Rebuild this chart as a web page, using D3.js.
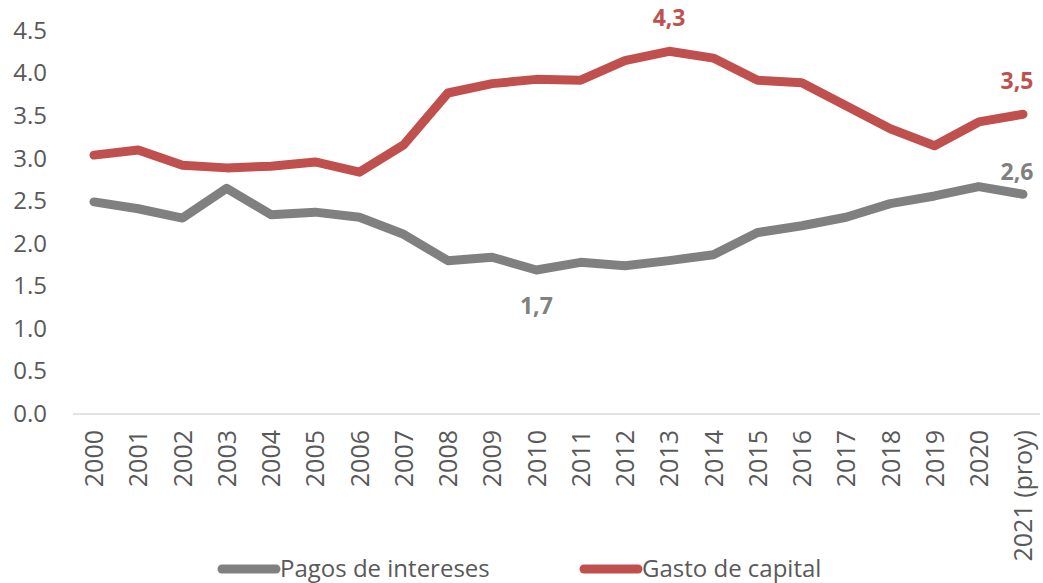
<!DOCTYPE html>
<html>
<head>
<meta charset="utf-8">
<script src="https://cdn.jsdelivr.net/npm/d3@7"></script>
<style>
  body { margin: 0; background: #fff; }
  svg text { font-family: "Open Sans", Lato, sans-serif; }
</style>
</head>
<body>
<div id="chart"></div>
<script>
// categories and series
var years = ["2000", "2001", "2002", "2003", "2004", "2005", "2006", "2007", "2008", "2009", "2010",
    "2011", "2012", "2013", "2014", "2015", "2016", "2017", "2018", "2019", "2020", "2021 (proy)"];
var pagosIntereses = [2.48, 2.40, 2.29, 2.64, 2.33, 2.36, 2.30, 2.10, 1.79, 1.83, 1.68,
    1.77, 1.73, 1.79, 1.86, 2.12, 2.20, 2.30, 2.46, 2.55, 2.66, 2.57];
var gastoCapital = [3.03, 3.09, 2.91, 2.88, 2.90, 2.95, 2.83, 3.15, 3.76, 3.87, 3.92,
    3.91, 4.14, 4.25, 4.17, 3.91, 3.88, 3.61, 3.34, 3.14, 3.42, 3.51];
var yTicks = [0, 0.5, 1, 1.5, 2, 2.5, 3, 3.5, 4, 4.5];
// labelled points
var labels = [
    { series: "gasto", i: 13, text: "4,3", pos: "above" },
    { series: "gasto", i: 21, text: "3,5", pos: "aboveLeft" },
    { series: "pagos", i: 21, text: "2,6", pos: "aboveLeft" },
    { series: "pagos", i: 10, text: "1,7", pos: "below" }
];

var width = 1043, height = 583;
var colors = { pagos: "#808080", gasto: "#C0504D" };

var svg = d3.select("#chart").append("svg")
    .attr("width", width).attr("height", height);

var xScale = d3.scalePoint().domain(years).range([94, 1023]);
var yScale = d3.scaleLinear().domain([0, 4.5]).range([413, 30]);

// y axis labels (no line)
var yAxis = d3.axisLeft(yScale).tickValues(yTicks).tickSize(0).tickPadding(0)
    .tickFormat(d3.format(".1f"));
var gy = svg.append("g").attr("transform", "translate(47,0)").call(yAxis);
gy.select(".domain").remove();
gy.selectAll("text").attr("fill", "#595959").style("font-size", "24px")
    .attr("dy", "0.35em");

// baseline
svg.append("line")
    .attr("x1", 73).attr("x2", 1040)
    .attr("y1", yScale(0) + 1).attr("y2", yScale(0) + 1)
    .attr("stroke", "#D9D9D9").attr("stroke-width", 1.5);

// x labels rotated
var xAxis = d3.axisBottom(xScale).tickSize(0).tickPadding(0);
var gx = svg.append("g").attr("transform", "translate(0,430)").call(xAxis);
gx.select(".domain").remove();
gx.selectAll("text")
    .attr("fill", "#595959").style("font-size", "25px")
    .attr("transform", "rotate(-90)")
    .attr("text-anchor", "end")
    .attr("x", 0).attr("y", 0).attr("dy", "0.35em");

var line = d3.line()
    .x(function (d, i) { return xScale(years[i]); })
    .y(function (d) { return yScale(d); });

svg.append("path").datum(pagosIntereses)
    .attr("d", line).attr("fill", "none")
    .attr("stroke", colors.pagos).attr("stroke-width", 9)
    .attr("stroke-linejoin", "round").attr("stroke-linecap", "round");
svg.append("path").datum(gastoCapital)
    .attr("d", line).attr("fill", "none")
    .attr("stroke", colors.gasto).attr("stroke-width", 9)
    .attr("stroke-linejoin", "round").attr("stroke-linecap", "round");

// data labels
labels.forEach(function (l) {
    var v = l.series === "gasto" ? gastoCapital[l.i] : pagosIntereses[l.i];
    var x = xScale(years[l.i]), y = yScale(v);
    var dx = 0, dy = -25;
    if (l.pos === "below") { dy = 44; }
    if (l.pos === "aboveLeft") { dx = -6; dy = l.series === "gasto" ? -25 : -14; }
    svg.append("text")
        .attr("x", x + dx).attr("y", y + dy)
        .attr("text-anchor", "middle")
        .attr("fill", colors[l.series])
        .style("font-size", "23px").style("font-weight", "bold")
        .text(l.text);
});

// legend
var legend = [
    { name: "Pagos de intereses", color: colors.pagos, x: 222 },
    { name: "Gasto de capital", color: colors.gasto, x: 584 }
];
var lg = svg.append("g").selectAll("g").data(legend).enter().append("g")
    .attr("transform", function (d) { return "translate(" + d.x + ",569)"; });
lg.append("line").attr("x1", 0).attr("x2", 54).attr("y1", 0).attr("y2", 0)
    .attr("stroke", function (d) { return d.color; })
    .attr("stroke-width", 9).attr("stroke-linecap", "round");
lg.append("text").attr("x", 58).attr("y", 0).attr("dy", "0.35em")
    .attr("fill", "#595959").style("font-size", "24px")
    .text(function (d) { return d.name; });
</script>
</body>
</html>
